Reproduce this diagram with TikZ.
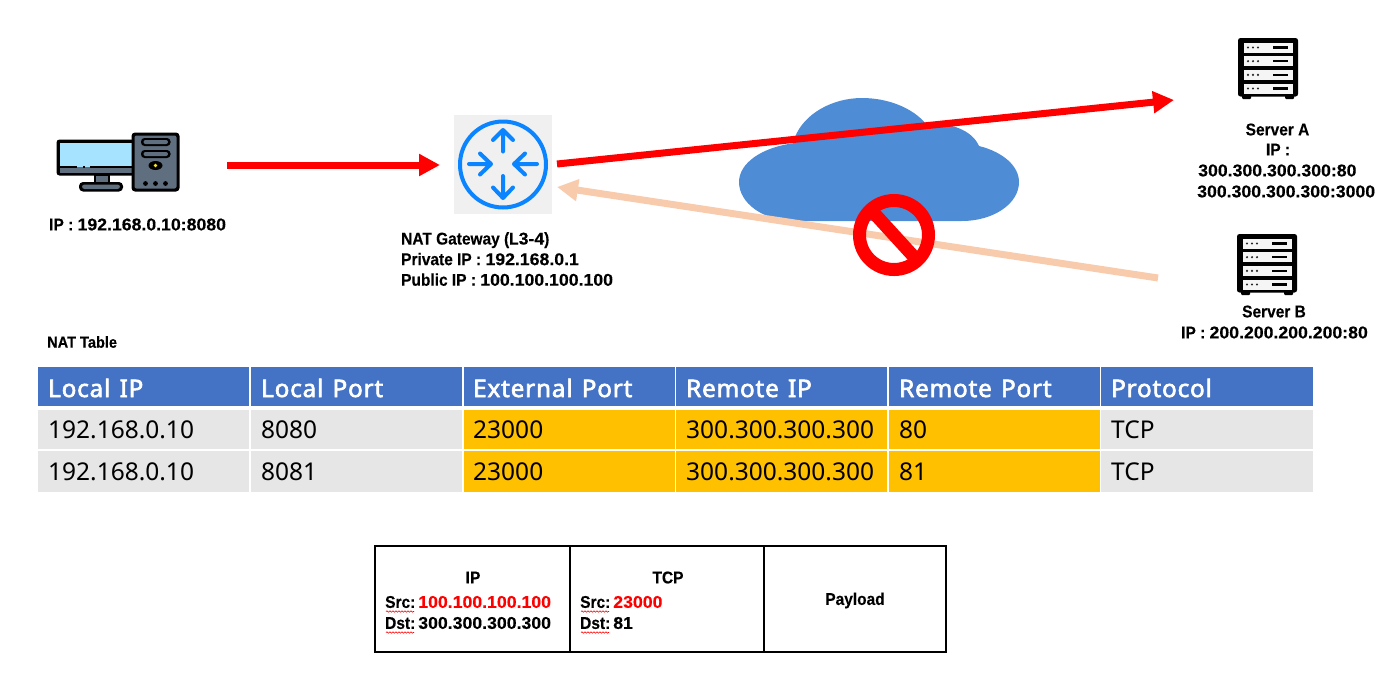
\documentclass[tikz,border=0pt]{standalone}
\usepackage{fontspec}
\setmainfont[FakeStretch=0.91,BoldFeatures={FakeBold=0.25}]{Liberation Sans}
\newfontfamily\dgfont[FakeStretch=1.04,BoldFeatures={FakeBold=0.25}]{Liberation Sans}
\newcommand{\dg}[1]{{\dgfont #1}}
\newfontfamily\tblfont{Noto Sans}
\newfontfamily\hdrfont[FakeBold=2.6,LetterSpace=3.5,WordSpace=1.3]{Noto Sans}
\usetikzlibrary{arrows.meta,decorations.pathmorphing}
\definecolor{hdrblue}{HTML}{4472C4}
\definecolor{cellgray}{HTML}{E6E6E6}
\definecolor{cellorange}{HTML}{FFC000}
\definecolor{cloudblue}{HTML}{4E8DD6}
\definecolor{peach}{HTML}{F8CBAD}
\definecolor{routerblue}{HTML}{0A84FF}
\definecolor{pcgray}{HTML}{5F6F7F}
\definecolor{screenblue}{HTML}{A6E3FF}
\tikzset{
  lbl/.style={inner sep=0pt,font=\bfseries\fontsize{17}{20.5}\selectfont,text=black},
  lblsm/.style={inner sep=0pt,font=\bfseries\fontsize{17}{20.6}\selectfont,align=left,anchor=north west},
  pkt/.style={inner sep=0pt,font=\bfseries\fontsize{17}{21}\selectfont,anchor=west},
  squig/.style={red,line width=.6pt,decorate,decoration={snake,amplitude=.7pt,segment length=3pt}},
  redarrow/.style={draw=red,line width=7pt,-{Triangle[length=21pt,width=21pt]}},
  peacharrow/.style={draw=peach,line width=7pt,-{Triangle[length=21pt,width=21pt]}},
  cellbase/.style={inner sep=0pt,outer sep=0pt,anchor=north west},
  hdr/.style={cellbase,fill=hdrblue,minimum height=39pt},
  gcell/.style={cellbase,fill=cellgray},
  ocell/.style={cellbase,fill=cellorange},
  htxt/.style={inner sep=0pt,anchor=base west,text=white,font=\hdrfont\fontsize{24.2}{28}\selectfont},
  btxt/.style={inner sep=0pt,anchor=base west,text=black,font=\tblfont\fontsize{24.5}{28}\selectfont},
  rarr/.style={draw=routerblue,line width=4pt,line cap=round,line join=round},
  pktbox/.style={draw=black,line width=2pt,minimum height=106pt,inner sep=0pt,outer sep=0pt,anchor=north west},
  serverpic/.pic={
    \fill[black,rounded corners=2.5pt] (0,0) rectangle (60,58.5);
    \fill[black,rounded corners=1pt] (4,57) rectangle (13,61);
    \fill[black,rounded corners=1pt] (47,57) rectangle (56,61);
    \foreach \yy in {4.5,18.2,31.9,45.5}{
      \fill[white!96!black] (5.5,\yy) rectangle (54.5,\yy+10);
      \foreach \xx in {10,15,20}{\fill[black!85] (\xx,\yy+5) circle (1.2pt);}
      \fill[black] (35,\yy+3.8) rectangle (49.5,\yy+6.2);
    }
  }
}
\begin{document}
\begin{tikzpicture}[x=1pt,y=-1pt]
\useasboundingbox (0,0) rectangle (1380,691);
% cloud
\fill[cloudblue] (795,221) .. controls (763,221) and (739,203) .. (739,182)
  .. controls (739,163) and (762,147) .. (795,143)
  -- (795,137) .. controls (804,114) and (832,98) .. (862,98)
  .. controls (888,98) and (913,108) .. (926,124)
  .. controls (950,122) and (972,130) .. (979,146)
  .. controls (1003,152) and (1019,166) .. (1019,182)
  .. controls (1019,204) and (993,221) .. (962,221) -- cycle;
% PC icon
\node[inner sep=0pt,minimum width=122pt,minimum height=58pt] (pc) at (118,162) {};
\fill[black,rounded corners=3pt] (56.5,139.5) rectangle (135,175.5);
\fill[screenblue] (60,143) rectangle (134,167);
\fill[pcgray] (60,167) rectangle (134,172.5);
\draw[black,line width=2.6pt] (60,167) -- (77,167) (83,167) -- (85,167) (90,167) -- (132,167);
\fill[black] (94,175) rectangle (110,184);
\fill[pcgray] (96,175.5) rectangle (108,182);
\fill[black,rounded corners=4pt] (79,182) rectangle (123,191.5);
\fill[pcgray,rounded corners=2.5pt] (82,184.5) rectangle (120,189);
\fill[black,rounded corners=3.5pt] (131.5,132.5) rectangle (179.5,191.5);
\fill[pcgray,rounded corners=2pt] (134.5,135.5) rectangle (176.5,188.5);
\foreach \yy in {142,154}{
  \fill[black,rounded corners=3.5pt] (141,\yy-4) rectangle (170.5,\yy+4);
  \fill[pcgray,rounded corners=2pt] (143.5,\yy-2) rectangle (168,\yy+2);
}
\fill[black] (155.5,165.5) ellipse (7pt and 4.5pt);
\fill[yellow!90!orange] (155.5,165.5) circle (1.8pt);
\foreach \xx in {145.5,155.5,165.5}{\fill[black] (\xx,183.5) circle (2.4pt);}
\node[lbl,anchor=west] (pclabel) at (49,224.5) {IP : \dg{192.168.0.10:8080}};
% router
\node[inner sep=0pt,fill=black!6,minimum width=98pt,minimum height=99pt] (router) at (503,164.5) {};
\draw[routerblue,line width=4pt] (503,164.5) circle (43);
\draw[rarr] (503,151.5) -- (503,130) (493,140) -- (503,130) -- (513,140);
\draw[rarr] (503,176) -- (503,198) (493,187.5) -- (503,198) -- (513,187.5);
\draw[rarr] (469,164) -- (491,164) (480,153.5) -- (491,164) -- (480,174.5);
\draw[rarr] (537,164) -- (514,164) (525,153.5) -- (514,164) -- (525,174.5);
\node[lblsm] (natlabel) at (401,232) {NAT Gateway (L\dg{3-4})\\Private IP : \dg{192.168.0.1}\\Public IP : \dg{100.100.100.100}};
% servers
\pic at (1238,38) {serverpic};
\pic at (1237,234) {serverpic};
\node[inner sep=0pt,minimum width=60pt,minimum height=60pt] (serverA) at (1268,68) {};
\node[inner sep=0pt,minimum width=60pt,minimum height=60pt] (serverB) at (1267,264) {};
\node[lbl] (sa1) at (1277.5,129.5) {Server A};
\node[lbl] (sa2) at (1278,149.5) {IP :};
\node[lbl,anchor=west] (sa3) at (1198,170.5) {\dg{300.300.300.300:80}};
\node[lbl,anchor=west] (sa4) at (1197,191.5) {\dg{300.300.300.300:3000}};
\node[lbl] (sb1) at (1274,311.5) {Server B};
\node[lbl,anchor=west] (sb2) at (1181,332.5) {IP : \dg{200.200.200.200:80}};
% connectors
\coordinate (pcOut) at (227,165);
\coordinate (natIn) at (440,165);
\coordinate (natOut) at (557,164);
\coordinate (aIn) at (1174,100);
\coordinate (bOut) at (1158,278);
\coordinate (natBack) at (557,187);
\draw[redarrow] (pcOut) -- (natIn);
\draw[peacharrow] (bOut) -- (natBack);
\draw[redarrow] (natOut) -- (aIn);
% no symbol
\draw[red,line width=13pt] (894,235) circle (34.5);
\draw[red,line width=13pt] (873,212) -- (915,258);
% NAT table
\node[lbl,anchor=west,font=\bfseries\fontsize{16}{17}\selectfont] (nattitle) at (47,342) {NAT Table};
\foreach \cx/\cw/\nm in {37.5/211.5/a,250.5/211.5/b,463.5/211/c,676/211/d,888.5/211/e,1101/212/f}{
  \node[hdr,minimum width=\cw pt] (h\nm) at (\cx,367) {};
}
\foreach \cx/\cw/\nm/\st in {37.5/211.5/a/gcell,250.5/211.5/b/gcell,463.5/211/c/ocell,676/211/d/ocell,888.5/211/e/ocell,1101/212/f/gcell}{
  \node[\st,minimum width=\cw pt,minimum height=39.5pt] (r\nm) at (\cx,409.5) {};
  \node[\st,minimum width=\cw pt,minimum height=40.5pt] (s\nm) at (\cx,451) {};
}
\foreach \cx/\t in {48/Local IP,261/Local Port,473/External Port,686/Remote IP,899/Remote Port,1111/Protocol}{
  \node[htxt] at (\cx,397) {\t};
}
\foreach \cx/\t in {48/192.168.0.10,261/8080,473/23000,686/300.300.300.300,899/80,1111/TCP}{
  \node[btxt] at (\cx,438.5) {\t};
}
\foreach \cx/\t in {48/192.168.0.10,261/8081,473/23000,686/300.300.300.300,899/81,1111/TCP}{
  \node[btxt] at (\cx,480) {\t};
}
% packet
\node[pktbox,minimum width=195pt] (pip) at (375,546) {};
\node[pktbox,minimum width=194pt] (ptcp) at (570,546) {};
\node[pktbox,minimum width=182pt] (ppay) at (764,546) {};
\node[pkt,anchor=center] (t1) at (473,577.5) {IP};
\node[pkt] (t2) at (385,602) {Src:\hspace{3pt}\textcolor{red}{\dg{100.100.100.100}}};
\node[pkt] (t3) at (385,623) {Dst:\hspace{3pt}\dg{300.300.300.300}};
\node[pkt,anchor=center] (t4) at (668,577.5) {TCP};
\node[pkt] (t5) at (580,602) {Src:\hspace{3pt}\textcolor{red}{\dg{23000}}};
\node[pkt] (t6) at (580,623) {Dst:\hspace{3pt}\dg{81}};
\node[pkt,anchor=center] (t7) at (855,600.5) {Payload};
\draw[squig] (386,611.5) -- (414,611.5);
\draw[squig] (386,632.5) -- (414,632.5);
\draw[squig] (581,611.5) -- (609,611.5);
\draw[squig] (581,632.5) -- (609,632.5);
\end{tikzpicture}
\end{document}
